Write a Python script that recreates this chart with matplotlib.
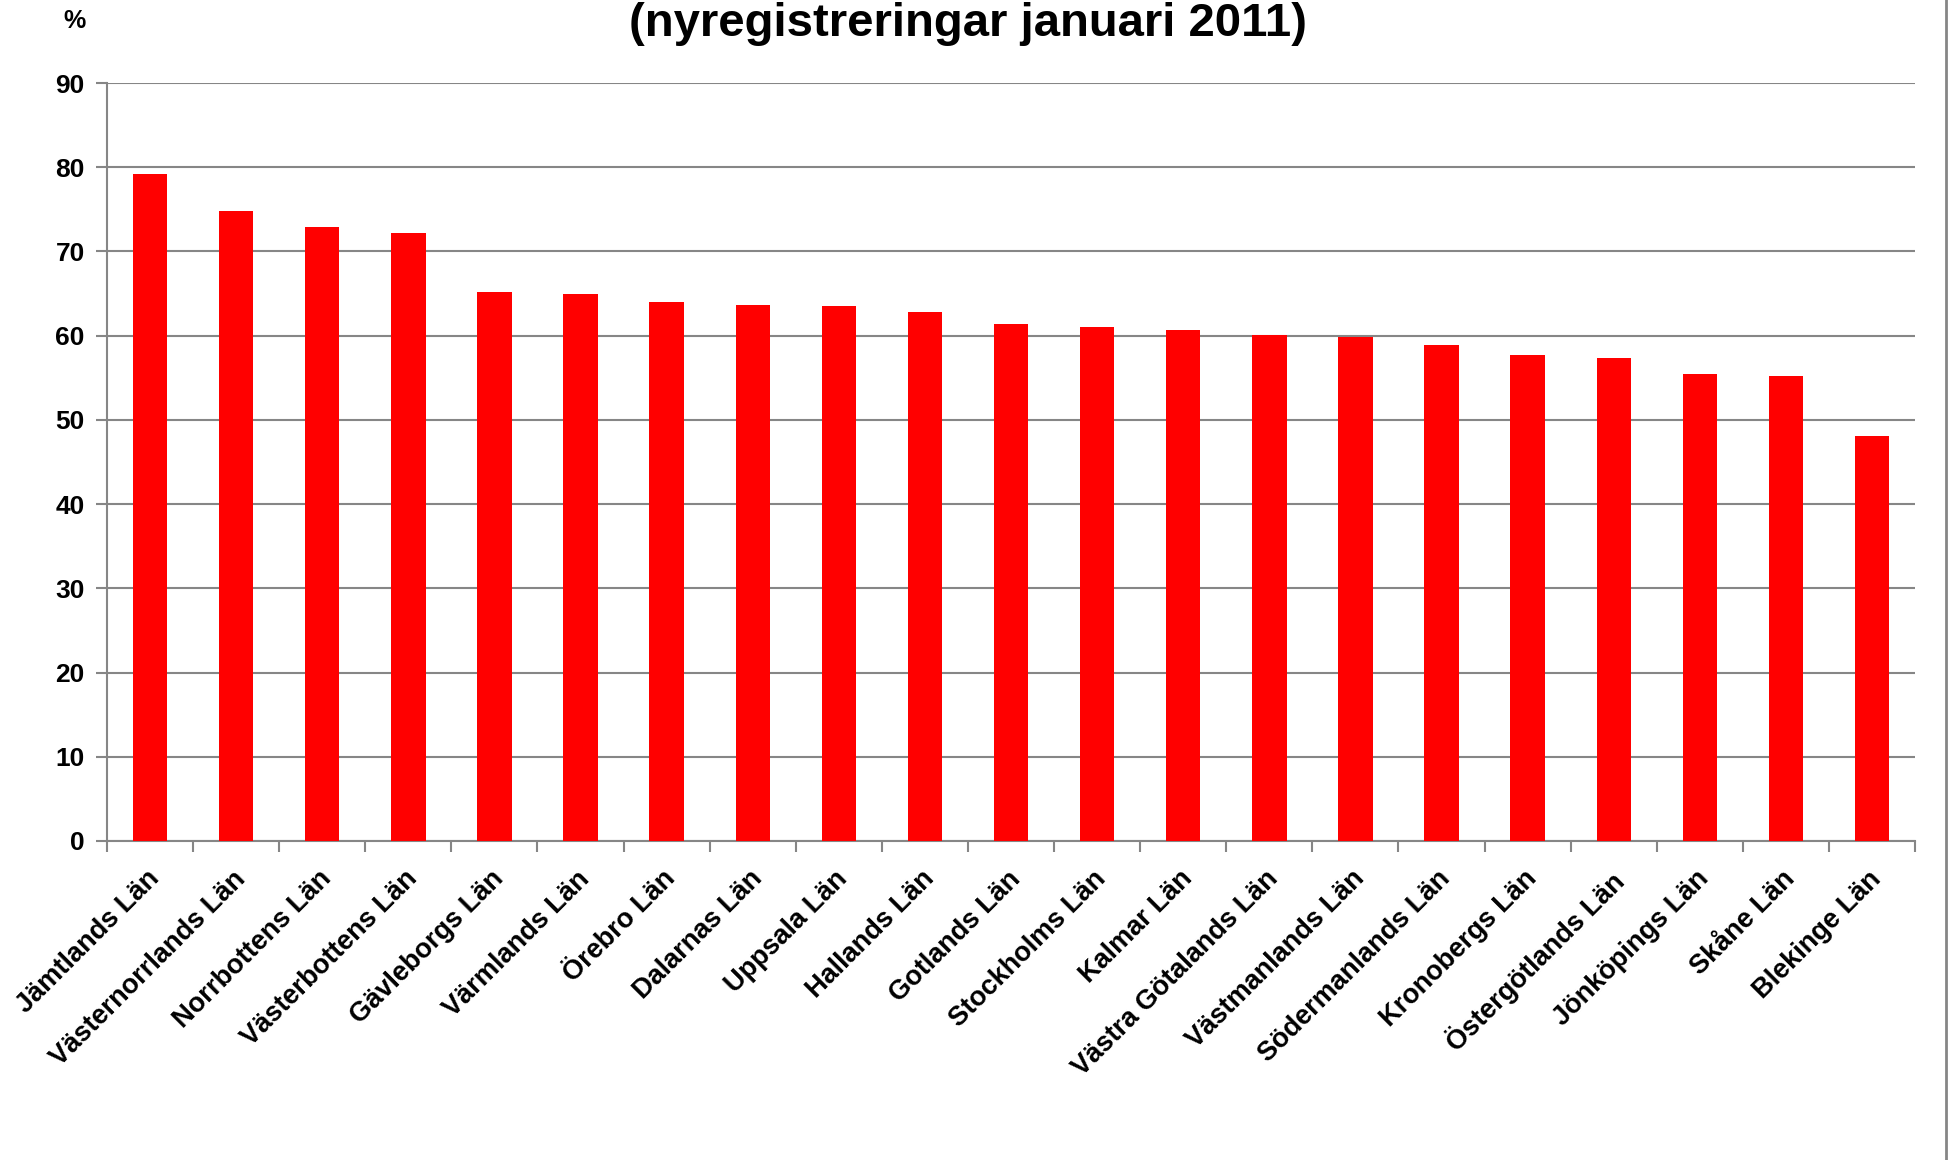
import numpy as np
import matplotlib.pyplot as plt
import matplotlib.transforms as mtrans
from matplotlib.lines import Line2D

plt.rcParams['font.family'] = ['Liberation Sans', 'DejaVu Sans']

# andel (%) per län, nyregistreringar januari 2011
lan = ['Jämtlands Län', 'Västernorrlands Län', 'Norrbottens Län', 'Västerbottens Län',
       'Gävleborgs Län', 'Värmlands Län', 'Örebro Län', 'Dalarnas Län', 'Uppsala Län',
       'Hallands Län', 'Gotlands Län', 'Stockholms Län', 'Kalmar Län',
       'Västra Götalands Län', 'Västmanlands Län', 'Södermanlands Län', 'Kronobergs Län',
       'Östergötlands Län', 'Jönköpings Län', 'Skåne Län', 'Blekinge Län']
andel = [79.2, 74.8, 72.9, 72.2, 65.2, 65.0, 64.0, 63.7, 63.5, 62.8, 61.4, 61.0,
         60.7, 60.1, 59.9, 58.9, 57.7, 57.4, 55.4, 55.2, 48.1]
yticks = [0, 10, 20, 30, 40, 50, 60, 70, 80, 90]

grey = '#868686'

fig = plt.figure(figsize=(19.49, 11.6), dpi=100)
ax = fig.add_axes([0.0549, 0.275, 0.9277, 0.6534])

x = np.arange(len(lan))
ax.bar(x, andel, width=0.4, color='#ff0000', zorder=3)
ax.set_xlim(-0.5, len(lan) - 0.5)
ax.set_ylim(0, 90)

ax.set_yticks(yticks)
ax.set_yticklabels([str(t) for t in yticks], fontsize=19, fontweight='bold')
ax.yaxis.grid(True, color=grey, lw=1.5, zorder=1)
ax.tick_params(axis='y', length=8, width=1.5, color=grey, pad=8)

# labels at the bar centres, tick marks between the bars
ax.set_xticks(x)
ax.set_xticklabels(lan, rotation=45, ha='right', rotation_mode='anchor',
                   fontsize=19.5, fontweight='bold')
ax.set_xticks(np.arange(len(lan) + 1) - 0.5, minor=True)
ax.tick_params(axis='x', which='major', length=0, pad=20)
ax.tick_params(axis='x', which='minor', length=8, width=1.5, color=grey)
shift = mtrans.ScaledTranslation(-4 / 100, 3 / 100, fig.dpi_scale_trans)
for lbl in ax.get_xticklabels():
    lbl.set_transform(lbl.get_transform() + shift)

for s in ['top', 'right']:
    ax.spines[s].set_visible(False)
for s in ['left', 'bottom']:
    ax.spines[s].set_color(grey)
    ax.spines[s].set_linewidth(1.5)

fig.text(968 / 1949, 1 - 24 / 1160, '(nyregistreringar januari 2011)',
         ha='center', va='center', fontsize=34, fontweight='bold')
fig.text(75 / 1949, 1 - 21 / 1160, '%', ha='center', va='center',
         fontsize=18, fontweight='bold')

# chart border on the right edge
fig.add_artist(Line2D([0.9985, 0.9985], [0, 1], color=grey, lw=2))

plt.savefig('out.png', dpi=100, facecolor='white')
